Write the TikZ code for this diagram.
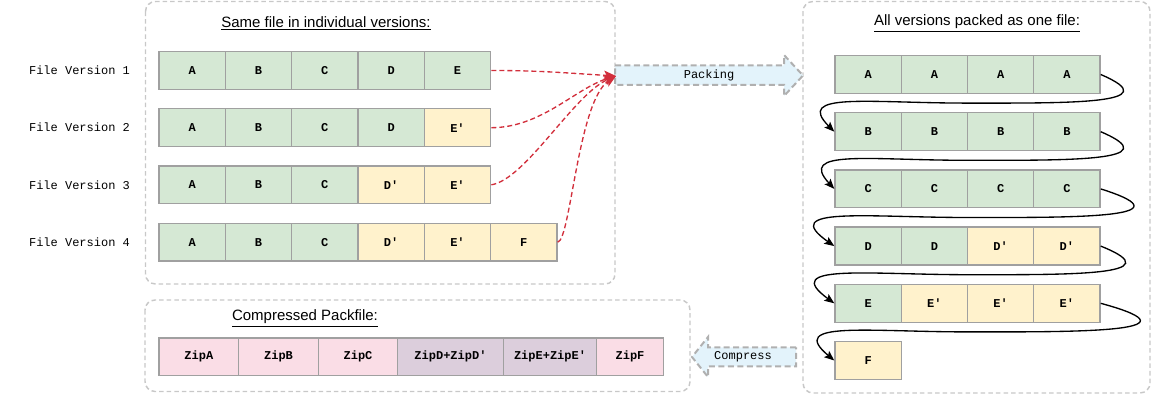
\documentclass[tikz,border=0pt]{standalone}
\usepackage{fontspec}
\setmainfont{Liberation Sans}
\newfontfamily\monof{Liberation Mono}
\usetikzlibrary{arrows.meta,calc}
\definecolor{cgreen}{HTML}{D5E8D4}
\definecolor{cyellow}{HTML}{FFF2CC}
\definecolor{cpink}{HTML}{FADDE6}
\definecolor{cmauve}{HTML}{DCCEDC}
\definecolor{cblue}{HTML}{E3F3FB}
\definecolor{cellborder}{HTML}{A0A0A0}
\definecolor{contgray}{HTML}{C8C8C8}
\definecolor{arrowgray}{HTML}{B0B0B0}
\definecolor{cred}{HTML}{D22F3C}
\begin{document}
\begin{tikzpicture}[x=0.75pt,y=-0.75pt,
  cell/.style={draw=cellborder, line width=1pt, minimum width=49.75pt, minimum height=28.4pt,
    inner sep=0pt, font=\monof\bfseries\fontsize{9}{10}\selectfont},
  gcell/.style={cell, fill=cgreen},
  ycell/.style={cell, fill=cyellow},
  pcell/.style={cell, fill=cpink},
  mcell/.style={cell, fill=cmauve},
  container/.style={draw=contgray, line width=1.1pt, dash pattern=on 3.4pt off 2.3pt, rounded corners=7.5pt},
  titletext/.style={font=\fontsize{11.25}{13}\selectfont, inner sep=0pt},
  vlabel/.style={font=\monof\fontsize{9}{10}\selectfont, inner sep=0pt},
  blockarrow/.style={draw=arrowgray, fill=cblue, line width=1.5pt, dash pattern=on 4.5pt off 2.6pt, line join=miter},
  arrowtext/.style={font=\monof\fontsize{9}{10}\selectfont, inner sep=0pt},
  redarrow/.style={draw=cred, line width=1pt, dash pattern=on 3.75pt off 2.25pt,
    -{Stealth[length=9pt, width=7pt, inset=2pt]}},
  blkarrow/.style={draw=black, line width=1pt, -{Stealth[length=7.5pt, width=6pt, inset=1.5pt]}}
]
\useasboundingbox (0,0) rectangle (1167,402);

% containers
\draw[container] (145.5,1.5) rectangle (615,284);
\draw[container] (803,1.5) rectangle (1150,393);
\draw[container] (145,300) rectangle (690,391.5);

% titles
\node[titletext] (t1) at (326,23.3) {\underline{Same file in individual versions:}};
\node[titletext] (t2) at (977,23.3) {\underline{All versions packed as one file:}};
\node[titletext] (t3) at (305,318.3) {\underline{Compressed Packfile:}};

% version labels
\foreach \r/\yy in {1/70.5,2/127.7,3/184.8,4/242.2}
  \node[vlabel] (lab\r) at (79.5,\yy) {File Version \r};

% left cells
\foreach \s/\t [count=\c] in {gcell/A,gcell/B,gcell/C,gcell/D,gcell/E}
  \node[\s] (v1-\c) at ({159+66.33*(\c-0.5)},70.5) {\t};
\foreach \s/\t [count=\c] in {gcell/A,gcell/B,gcell/C,gcell/D,ycell/E\textquotesingle}
  \node[\s] (v2-\c) at ({159+66.33*(\c-0.5)},127.7) {\t};
\foreach \s/\t [count=\c] in {gcell/A,gcell/B,gcell/C,ycell/D\textquotesingle,ycell/E\textquotesingle}
  \node[\s] (v3-\c) at ({159+66.33*(\c-0.5)},184.8) {\t};
\foreach \s/\t [count=\c] in {gcell/A,gcell/B,gcell/C,ycell/D\textquotesingle,ycell/E\textquotesingle,ycell/F}
  \node[\s] (v4-\c) at ({159+66.33*(\c-0.5)},242.2) {\t};

% right cells
\foreach \s/\t [count=\c] in {gcell/A,gcell/A,gcell/A,gcell/A}
  \node[\s] (w1-\c) at ({835+66.25*(\c-0.5)},74.5) {\t};
\foreach \s/\t [count=\c] in {gcell/B,gcell/B,gcell/B,gcell/B}
  \node[\s] (w2-\c) at ({835+66.25*(\c-0.5)},131.7) {\t};
\foreach \s/\t [count=\c] in {gcell/C,gcell/C,gcell/C,gcell/C}
  \node[\s] (w3-\c) at ({835+66.25*(\c-0.5)},188.9) {\t};
\foreach \s/\t [count=\c] in {gcell/D,gcell/D,ycell/D\textquotesingle,ycell/D\textquotesingle}
  \node[\s] (w4-\c) at ({835+66.25*(\c-0.5)},246.1) {\t};
\foreach \s/\t [count=\c] in {gcell/E,ycell/E\textquotesingle,ycell/E\textquotesingle,ycell/E\textquotesingle}
  \node[\s] (w5-\c) at ({835+66.25*(\c-0.5)},303.3) {\t};
\node[ycell] (w6-1) at (868.1,360.5) {F};

% compressed cells
\node[pcell, minimum width=59.8pt]  (z1) at (198.85,356.8) {ZipA};
\node[pcell, minimum width=59.7pt]  (z2) at (278.5,356.8) {ZipB};
\node[pcell, minimum width=59.55pt] (z3) at (358,356.8) {ZipC};
\node[mcell, minimum width=79.2pt]  (z4) at (450.5,356.8) {ZipD+ZipD\textquotesingle};
\node[mcell, minimum width=70.05pt] (z5) at (550,356.8) {ZipE+ZipE\textquotesingle};
\node[pcell, minimum width=49.95pt] (z6) at (630,356.8) {ZipF};

% packing arrow
\draw[blockarrow] (615,65.5) -- (784,65.5) -- (784,55) -- (803,75.5) -- (784,96) -- (784,85) -- (615,85) -- cycle;
\node[arrowtext] (pack) at (709,75.5) {Packing};
\coordinate (packin) at (616,76);

% compress arrow
\draw[blockarrow] (796,347.3) -- (708,347.3) -- (708,337) -- (692,357) -- (708,377) -- (708,366.5) -- (796,366.5) -- cycle;
\node[arrowtext] (comp) at (743,357) {Compress};

% red dashed connectors
\draw[redarrow] (v1-5.east) .. controls +(50,0) and +(-50,-3) .. (packin);
\draw[redarrow] (v2-5.east) .. controls +(50,0) and +(-40,12) .. (packin);
\draw[redarrow] (v3-5.east) .. controls +(34,-5) and +(-42,18) .. (packin);
\draw[redarrow] (v4-6.east) .. controls +(13,-2) and +(-38,25) .. (packin);

% black serpentine connectors
\foreach \a/\b/\R/\L in {1/2/70/40, 2/3/70/37, 3/4/95/57, 4/5/75/55, 5/6/110/48}
  \draw[blkarrow] (w\a-4.east) .. controls +(\R,30) and +(100,0) ..
    ($(w\a-4.east)!.5!(w\b-1.west)$) .. controls +(-100,0) and +(-\L,-40) .. (w\b-1.west);
\end{tikzpicture}
\end{document}
